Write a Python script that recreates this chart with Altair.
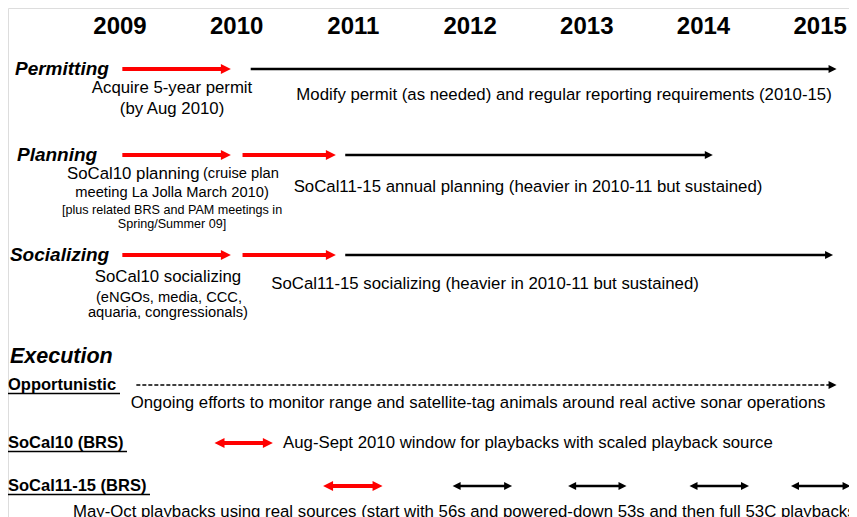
import altair as alt
import pandas as pd

# ---------------- data ----------------
years = [2009, 2010, 2011, 2012, 2013, 2014, 2015]

# rows (vertical lanes of the timeline)
row_y = {
    "years": 27, "perm": 69, "perm_t1": 88, "perm_t2": 109, "perm_t3": 95,
    "plan": 155, "plan_t1": 174, "plan_t2": 193, "plan_t3": 210, "plan_t4": 224, "plan_t5": 187,
    "soc": 255, "soc_t1": 277, "soc_t2": 298, "soc_t3": 313, "soc_t4": 284,
    "exec": 357, "opp": 385, "opp_t": 403, "brs10": 443, "brs11": 486, "brs11_t": 512,
}

section_labels = ["Permitting", "Planning", "Socializing", "Execution"]
section_x = [2008.10, 2008.117, 2008.057, 2008.057]
section_row = ["perm", "plan", "soc", "exec"]
section_size = [19, 19, 19, 21.5]

exec_labels = ["Opportunistic", "SoCal10 (BRS)", "SoCal11-15 (BRS)"]
exec_row = ["opp", "brs10", "brs11"]
exec_x = [2008.04, 2008.04, 2008.04]
exec_x_end = [2009.0, 2009.06, 2009.257]

# arrows: start year, end year, row, kind, heads
arrow_start = [2009.02, 2010.12, 2009.02, 2010.05, 2010.93, 2009.02, 2010.05, 2010.93,
               2009.14, 2009.81, 2010.74, 2011.85, 2012.84, 2013.88, 2014.75]
arrow_end = [2009.95, 2015.14, 2009.95, 2010.85, 2014.08, 2009.95, 2010.85, 2015.11,
             2015.14, 2010.31, 2011.25, 2012.36, 2013.34, 2014.39, 2015.26]
arrow_row = ["perm", "perm", "plan", "plan", "plan", "soc", "soc", "soc",
             "opp", "brs10", "brs11", "brs11", "brs11", "brs11", "brs11"]
arrow_kind = ["red", "black", "red", "red", "black", "red", "red", "black",
              "dashed", "red", "red", "black", "black", "black", "black"]
arrow_heads = ["end"] * 9 + ["both"] * 6

# notes
note_text = [
    "Acquire 5-year permit", "(by Aug 2010)",
    "Modify permit (as needed) and regular reporting requirements (2010-15)",
    "SoCal10 planning", "(cruise plan", "meeting La Jolla March 2010)",
    "[plus related BRS and PAM meetings in", "Spring/Summer 09]",
    "SoCal11-15 annual planning (heavier in 2010-11 but sustained)",
    "SoCal10 socializing", "(eNGOs, media, CCC,", "aquaria, congressionals)",
    "SoCal11-15 socializing (heavier in 2010-11 but sustained)",
    "Ongoing efforts to monitor range and satellite-tag animals around real active sonar operations",
    "Aug-Sept 2010 window for playbacks with scaled playback source",
    "May-Oct playbacks using real sources (start with 56s and powered-down 53s and then full 53C playbacks",
]
note_x = [2009.446, 2009.446, 2012.805, 2008.546, 2009.711, 2009.446, 2009.446, 2009.446,
          2012.496, 2009.411, 2009.42, 2009.411, 2012.128, 2012.068, 2010.397, 2008.597]
note_row = ["perm_t1", "perm_t2", "perm_t3", "plan_t1", "plan_t1", "plan_t2", "plan_t3", "plan_t4",
            "plan_t5", "soc_t1", "soc_t2", "soc_t3", "soc_t4", "opp_t", "brs10", "brs11_t"]
note_size = [16.8, 16.8, 16.8, 16.8, 14.7, 14.7, 12.6, 12.6, 16.8, 16.8, 14.7, 14.7, 16.8, 16.8, 16.8, 16.8]
note_align = ["center", "center", "center", "left", "left", "center", "center", "center",
              "center", "center", "center", "center", "center", "center", "left", "left"]

# ---------------- layout helpers ----------------
PX_PER_YEAR = 116.7
X_MIN = 2009 - (120 - 8) / PX_PER_YEAR
W, H = 841, 509
X_MAX = X_MIN + W / PX_PER_YEAR
FONT = "Liberation Sans"

xs = alt.Scale(domain=[X_MIN, X_MAX], range=[0, W], nice=False, zero=False)
ys = alt.Scale(domain=[8, 8 + H], range=[0, H], nice=False, zero=False)

def X(f):
    return alt.X(f, type="quantitative", scale=xs, axis=None)

def Y(f):
    return alt.Y(f, type="quantitative", scale=ys, axis=None)

# ---------------- tables ----------------
df_years = pd.DataFrame({"label": [str(y) for y in years], "x": years, "y": row_y["years"]})
df_sec = pd.DataFrame({"label": section_labels, "x": section_x,
                       "y": [row_y[r] for r in section_row], "size": section_size})
df_exec = pd.DataFrame({"label": exec_labels, "x": exec_x, "x2": exec_x_end,
                        "y": [row_y[r] for r in exec_row]})
df_exec["yu"] = df_exec["y"] + 8.5

kind_color = {"red": "#ff0000", "black": "#000000", "dashed": "#000000"}
kind_head_px = {"red": 10, "black": 8, "dashed": 8}
df_arr = pd.DataFrame({"start": arrow_start, "end": arrow_end,
                       "y": [row_y[r] for r in arrow_row],
                       "kind": arrow_kind, "heads": arrow_heads})
df_arr["color"] = df_arr["kind"].map(kind_color)
hl = df_arr["kind"].map(kind_head_px) / PX_PER_YEAR
df_arr["x1"] = df_arr["start"] + (df_arr["heads"] == "both") * hl * 0.7
df_arr["x2"] = df_arr["end"] - hl * 0.7
df_arr["hsize"] = df_arr["kind"].map(lambda k: kind_head_px[k] ** 2)

df_right = df_arr[["end", "y", "color", "hsize"]].rename(columns={"end": "x"})
df_left = df_arr[df_arr["heads"] == "both"][["start", "y", "color", "hsize"]].rename(columns={"start": "x"})

df_notes = pd.DataFrame({"label": note_text, "x": note_x,
                         "y": [row_y[r] for r in note_row],
                         "size": note_size, "align": note_align})

# ---------------- layers ----------------
year_layer = alt.Chart(df_years).mark_text(
    font=FONT, fontWeight="bold", fontSize=24, align="center", baseline="middle", color="#000"
).encode(x=X("x"), y=Y("y"), text="label:N")

sec_layer = alt.Chart(df_sec).mark_text(
    font=FONT, fontWeight="bold", fontStyle="italic", align="left", baseline="middle", color="#000"
).encode(x=X("x"), y=Y("y"), text="label:N", size=alt.Size("size:Q", scale=None))

exec_layer = alt.Chart(df_exec).mark_text(
    font=FONT, fontWeight="bold", fontSize=16.5, align="left", baseline="middle", color="#000"
).encode(x=X("x"), y=Y("y"), text="label:N")

underline_layer = alt.Chart(df_exec).mark_rule(color="#000", strokeWidth=1.5).encode(
    x=X("x"), x2="x2:Q", y=Y("yu"))

notes_c = alt.Chart(df_notes).transform_filter(alt.datum.align == "center").mark_text(
    font=FONT, align="center", baseline="middle", color="#000"
).encode(x=X("x"), y=Y("y"), text="label:N", size=alt.Size("size:Q", scale=None))

notes_l = alt.Chart(df_notes).transform_filter(alt.datum.align == "left").mark_text(
    font=FONT, align="left", baseline="middle", color="#000"
).encode(x=X("x"), y=Y("y"), text="label:N", size=alt.Size("size:Q", scale=None))

red_lines = alt.Chart(df_arr).transform_filter(alt.datum.kind == "red").mark_rule(
    color="#ff0000", strokeWidth=4).encode(x=X("x1"), x2="x2:Q", y=Y("y"))
black_lines = alt.Chart(df_arr).transform_filter(alt.datum.kind == "black").mark_rule(
    color="#000000", strokeWidth=2.5).encode(x=X("x1"), x2="x2:Q", y=Y("y"))
dashed_lines = alt.Chart(df_arr).transform_filter(alt.datum.kind == "dashed").mark_rule(
    color="#000000", strokeWidth=1.5, strokeDash=[4, 2]).encode(x=X("x1"), x2="x2:Q", y=Y("y"))

heads_r = alt.Chart(df_right).mark_point(
    shape="M0,0L-2,-1L-2,1Z", filled=True, opacity=1, strokeWidth=0
).encode(x=X("x"), y=Y("y"), color=alt.Color("color:N", scale=None),
         size=alt.Size("hsize:Q", scale=None))
heads_l = alt.Chart(df_left).mark_point(
    shape="M0,0L2,-1L2,1Z", filled=True, opacity=1, strokeWidth=0
).encode(x=X("x"), y=Y("y"), color=alt.Color("color:N", scale=None),
         size=alt.Size("hsize:Q", scale=None))

chart = alt.layer(
    red_lines, black_lines, dashed_lines, heads_r, heads_l,
    year_layer, sec_layer, exec_layer, underline_layer, notes_c, notes_l,
).properties(
    width=W, height=H, autosize=alt.AutoSizeParams(type="none"), padding=0
).configure_view(stroke=None).configure(background="#ffffff")

chart.save("out.html", embed_options={"renderer": "svg", "actions": False})
